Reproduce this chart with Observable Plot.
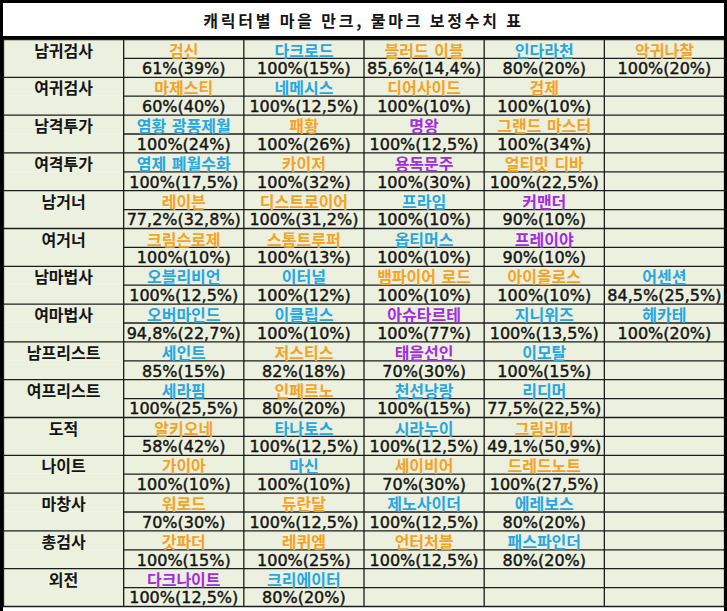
<!DOCTYPE html>
<html>
<head>
<meta charset="utf-8">
<script src="https://cdn.jsdelivr.net/npm/d3@7"></script>
<script src="https://cdn.jsdelivr.net/npm/@observablehq/plot@0.6"></script>
<style>
  html, body { margin: 0; padding: 0; background: #fff; }
  #wrap { width: 727px; height: 611px; box-sizing: border-box; border: 3px solid #000; border-bottom: none; overflow: hidden; background: #fff; }
  #title { height: 33px; border-bottom: 3px solid #000; display: flex; align-items: center; justify-content: center;
           font-family: 'Noto Sans CJK KR', sans-serif; font-weight: bold; font-size: 16px; letter-spacing: 2.8px; color: #151515; }
  #chart svg { display: block; }
</style>
</head>
<body>
<div id="wrap">
  <div id="title">캐릭터별 마을 만크, 물마크 보정수치 표</div>
  <div id="chart"></div>
</div>
<script>
const title = "캐릭터별 마을 만크, 물마크 보정수치 표";
const classes = ["남귀검사","여귀검사","남격투가","여격투가","남거너","여거너","남마법사","여마법사","남프리스트","여프리스트","도적","나이트","마창사","총검사","외전"];
const names = [
  ["검신","다크로드","블러드 이블","인다라천","악귀나찰"],
  ["마제스티","네메시스","디어사이드","검제"],
  ["염황 광풍제월","패황","명왕","그랜드 마스터"],
  ["염제 폐월수화","카이저","용독문주","얼티밋 디바"],
  ["레이븐","디스트로이어","프라임","커맨더"],
  ["크림슨로제","스톰트루퍼","옵티머스","프레이야"],
  ["오블리비언","이터널","뱀파이어 로드","아이올로스","어센션"],
  ["오버마인드","이클립스","아슈타르테","지니위즈","헤카테"],
  ["세인트","저스티스","태을선인","이모탈"],
  ["세라핌","인페르노","천선낭랑","리디머"],
  ["알키오네","타나토스","시라누이","그림리퍼"],
  ["가이아","마신","세이비어","드레드노트"],
  ["워로드","듀란달","제노사이더","에레보스"],
  ["갓파더","레퀴엠","언터처블","패스파인더"],
  ["다크나이트","크리에이터"]
];
const values = [
  ["61%(39%)","100%(15%)","85,6%(14,4%)","80%(20%)","100%(20%)"],
  ["60%(40%)","100%(12,5%)","100%(10%)","100%(10%)"],
  ["100%(24%)","100%(26%)","100%(12,5%)","100%(34%)"],
  ["100%(17,5%)","100%(32%)","100%(30%)","100%(22,5%)"],
  ["77,2%(32,8%)","100%(31,2%)","100%(10%)","90%(10%)"],
  ["100%(10%)","100%(13%)","100%(10%)","90%(10%)"],
  ["100%(12,5%)","100%(12%)","100%(10%)","100%(10%)","84,5%(25,5%)"],
  ["94,8%(22,7%)","100%(10%)","100%(77%)","100%(13,5%)","100%(20%)"],
  ["85%(15%)","82%(18%)","70%(30%)","100%(15%)"],
  ["100%(25,5%)","80%(20%)","100%(15%)","77,5%(22,5%)"],
  ["58%(42%)","100%(12,5%)","100%(12,5%)","49,1%(50,9%)"],
  ["100%(10%)","100%(10%)","70%(30%)","100%(27,5%)"],
  ["70%(30%)","100%(12,5%)","100%(12,5%)","80%(20%)"],
  ["100%(15%)","100%(25%)","100%(12,5%)","80%(20%)"],
  ["100%(12,5%)","80%(20%)"]
];
// o = orange, b = blue, p = purple
const nameColors = [
  ["o","b","o","b","o"],
  ["o","b","o","o"],
  ["b","o","p","o"],
  ["b","o","p","o"],
  ["o","o","b","p"],
  ["o","o","b","p"],
  ["b","b","o","o","b"],
  ["b","b","p","b","b"],
  ["b","o","p","b"],
  ["b","o","b","b"],
  ["o","b","b","o"],
  ["o","b","o","o"],
  ["o","o","b","b"],
  ["o","o","o","b"],
  ["p","b"]
];
const palette = {o: "#F5A325", b: "#26A7E3", p: "#A32CE0"};
const nCols = 6;
const nRows = classes.length * 2;

const cells = [];
classes.forEach((c, i) => {
  names[i].forEach((n, j) => {
    cells.push({row: 2 * i, col: j + 1, name: n, value: values[i][j], color: palette[nameColors[i][j]]});
  });
});

const font = "'DejaVu Sans', 'Noto Sans CJK KR', sans-serif";
const lineColor = "#1c1c1c";

const plot = Plot.plot({
  width: 721,
  height: 572,
  margin: 0,
  x: {type: "linear", domain: [0, nCols], range: [0, 721], axis: null},
  y: {type: "linear", domain: [0, nRows], range: [0, 567], axis: null},
  color: {type: "identity"},
  style: {background: "#fff"},
  marks: [
    Plot.rect(d3.range(nRows), {x1: () => 0, x2: () => nCols, y1: d => d, y2: d => d + 1, fill: "#EBF1DE"}),
    Plot.ruleX(d3.range(nCols + 1), {y1: () => 0, y2: () => nRows, stroke: lineColor, strokeWidth: 1.3}),
    Plot.ruleY(d3.range(0, nRows + 1, 2), {x1: () => 0, x2: () => nCols, stroke: lineColor, strokeWidth: 1.3}),
    Plot.ruleY(d3.range(1, nRows, 2), {x1: () => 1, x2: () => nCols, stroke: lineColor, strokeWidth: 1.3}),
    Plot.text(classes, {x: () => 0.5, y: (d, i) => 2 * i + 0.5, text: d => d, fontSize: 16, fontWeight: "bold", fontFamily: font, fill: "#151515", dy: 2.5, ariaLabel: "classes"}),
    Plot.text(cells, {x: d => d.col + 0.5, y: d => d.row + 0.5, text: "name", fill: "color", fontSize: 16, fontWeight: "bold", fontFamily: font, dy: 2.5, ariaLabel: "names"}),
    Plot.text(cells, {x: d => d.col + 0.5, y: d => d.row + 1.5, text: "value", fontSize: 16, fontFamily: font, fill: "#151515", stroke: "#151515", strokeWidth: 0.45, dy: 1.2, ariaLabel: "values"})
  ]
});

d3.select(plot).selectAll('g[aria-label="classes"] text').attr("letter-spacing", "4.2px");
d3.select(plot).selectAll('g[aria-label="names"] text').attr("letter-spacing", "4.5px");

document.getElementById("chart").appendChild(plot);
</script>
</body>
</html>
